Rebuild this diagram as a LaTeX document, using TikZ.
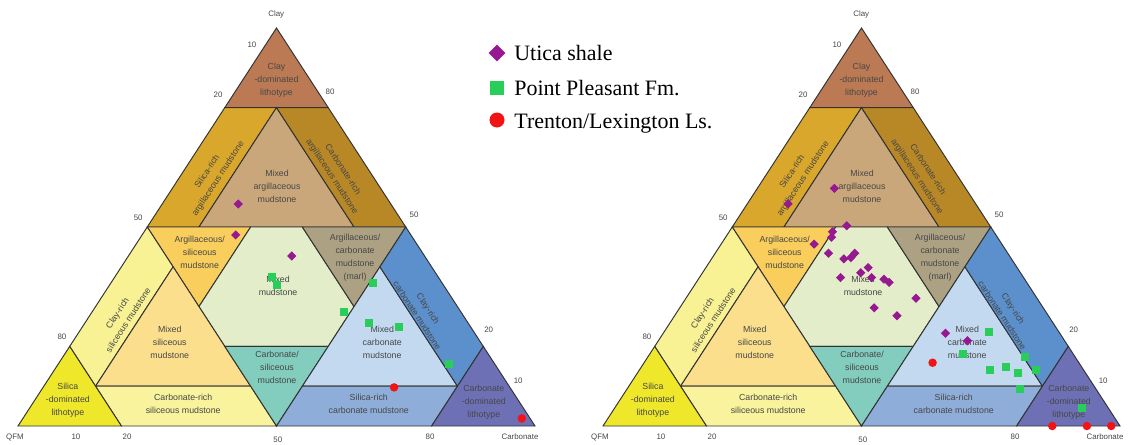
\documentclass[tikz,border=0pt]{standalone}
\usepackage{fontspec}
\setmainfont{Liberation Serif}
\setsansfont{Liberation Sans}
\usetikzlibrary{shapes.geometric}

\definecolor{claydom}{RGB}{188,122,84}
\definecolor{silargi}{RGB}{217,167,43}
\definecolor{mixargi}{RGB}{201,167,122}
\definecolor{carbargi}{RGB}{185,136,38}
\definecolor{argisil}{RGB}{249,206,92}
\definecolor{mixmud}{RGB}{227,237,201}
\definecolor{marl}{RGB}{173,161,132}
\definecolor{claysil}{RGB}{248,242,148}
\definecolor{mixsil}{RGB}{251,223,141}
\definecolor{carbsil}{RGB}{248,243,156}
\definecolor{sildom}{RGB}{239,232,42}
\definecolor{carbslash}{RGB}{130,205,189}
\definecolor{mixcarb}{RGB}{194,217,240}
\definecolor{claycarb}{RGB}{91,144,205}
\definecolor{silcarb}{RGB}{142,173,217}
\definecolor{carbdom}{RGB}{109,112,181}
\definecolor{uticac}{RGB}{150,25,145}
\definecolor{pleasantc}{RGB}{40,205,90}
\definecolor{trentonc}{RGB}{240,20,20}

% one ternary diagram, points given as (carbonate, clay)
\newcommand{\ternbase}[1]{%
  \filldraw[zone, fill=claydom] (0,1) -- (0,0.8) -- (0.2,0.8) -- cycle;
  \filldraw[zone, fill=silargi] (0,0.8) -- (0,0.5) -- (0.1,0.5) -- (0.1,0.8) -- cycle;
  \filldraw[zone, fill=mixargi] (0.1,0.8) -- (0.1,0.5) -- (0.4,0.5) -- cycle;
  \filldraw[zone, fill=carbargi] (0.2,0.8) -- (0.1,0.8) -- (0.4,0.5) -- (0.5,0.5) -- cycle;
  \filldraw[zone, fill=argisil] (0,0.5) -- (0.2,0.5) -- (0.2,0.3) -- cycle;
  \filldraw[zone, fill=mixmud] (0.2,0.5) -- (0.3,0.5) -- (0.5,0.3) -- (0.5,0.2) -- (0.3,0.2) -- (0.2,0.3) -- cycle;
  \filldraw[zone, fill=marl] (0.3,0.5) -- (0.5,0.5) -- (0.5,0.3) -- cycle;
  \filldraw[zone, fill=claysil] (0,0.5) -- (0.1,0.4) -- (0.1,0.1) -- (0,0.2) -- cycle;
  \filldraw[zone, fill=mixsil] (0.1,0.4) -- (0.1,0.1) -- (0.4,0.1) -- cycle;
  \filldraw[zone, fill=carbsil] (0.1,0.1) -- (0.2,0) -- (0.5,0) -- (0.4,0.1) -- cycle;
  \filldraw[zone, fill=sildom] (0,0) -- (0.2,0) -- (0,0.2) -- cycle;
  \filldraw[zone, fill=carbslash] (0.3,0.2) -- (0.5,0.2) -- (0.5,0) -- cycle;
  \filldraw[zone, fill=mixcarb] (0.5,0.4) -- (0.8,0.1) -- (0.5,0.1) -- cycle;
  \filldraw[zone, fill=claycarb] (0.5,0.5) -- (0.5,0.4) -- (0.8,0.1) -- (0.8,0.2) -- cycle;
  \filldraw[zone, fill=silcarb] (0.8,0.1) -- (0.8,0) -- (0.5,0) -- (0.5,0.1) -- cycle;
  \filldraw[zone, fill=carbdom] (0.8,0.2) -- (1,0) -- (0.8,0) -- cycle;

  \foreach \k/\c/\r/\t [count=\n] in {
      0.065/0.87/0/{Clay\\-dominated\\lithotype},
      0.062/0.63/57/{Silica-rich\\argillaceous mudstone},
      0.2/0.602/0/{Mixed\\argillaceous\\mudstone},
      0.3/0.635/-57/{Carbonate-rich\\argillaceous mudstone},
      0.133/0.437/0/{Argillaceous/\\siliceous\\mudstone},
      0.327/0.352/0/{Mixed\\mudstone},
      0.441/0.422/0/{Argillaceous/\\carbonate\\mudstone\\(marl)},
      0.065/0.275/57/{Clay-rich\\siliceous mudstone},
      0.188/0.211/0/{Mixed\\siliceous\\mudstone},
      0.427/0.148/0/{Carbonate/\\siliceous\\mudstone},
      0.599/0.211/0/{Mixed\\carbonate\\mudstone},
      0.64/0.286/-57/{Clay-rich\\carbonate mudstone},
      0.064/0.065/0/{Silica\\-dominated\\lithotype},
      0.292/0.055/0/{Carbonate-rich\\siliceous mudstone},
      0.651/0.055/0/{Silica-rich\\carbonate mudstone},
      0.871/0.06/0/{Carbonate\\-dominated\\lithotype}}
    \node[zonetext, rotate=\r] (#1z\n) at (\k,\c) {\t};

  \foreach \k/\c/\t [count=\n] in {
      -0.017/1.033/Clay, -0.026/0.957/10, -0.029/0.832/20, -0.029/0.523/50,
      -0.027/0.224/80, 0.184/0.839/80, 0.501/0.53/50, 0.79/0.241/20,
      0.911/0.113/10, 0.008/-0.028/QFM, 0.126/-0.028/10, 0.225/-0.028/20,
      0.52/-0.035/50, 0.811/-0.028/80, 0.985/-0.028/Carbonate}
    \node[tick] (#1t\n) at (\k,\c) {\t};
}

\begin{document}
\begin{tikzpicture}[x=2cm, y=2cm,
    zone/.style={draw=black!80, line width=0.55pt},
    zonetext/.style={font=\sffamily\fontsize{5}{7.4}\selectfont, text=black!72, align=center, inner sep=0pt},
    tick/.style={font=\sffamily\fontsize{4.5}{5}\selectfont, text=black!72, inner sep=0pt},
    tern/.style={shift={#1}, x={(10.34cm,0cm)}, y={(5.17cm,7.96cm)}},
    utica/.style={diamond, fill=uticac, inner sep=0pt, minimum size=0.19cm},
    pleasant/.style={rectangle, fill=pleasantc, inner sep=0pt, minimum size=0.16cm},
    trenton/.style={circle, fill=trentonc, inner sep=0pt, minimum size=0.17cm},
    legtext/.style={anchor=base west, font=\fontsize{12.5}{14}\selectfont, inner sep=0pt}]
  \useasboundingbox (0,0) rectangle (11.44,4.44);

  \begin{scope}[tern={(0.18,0.18)}]
    \ternbase{L}
    \foreach \k/\c [count=\n] in {0.147/0.558, 0.181/0.48, 0.316/0.427}
      \node[utica] (Lu\n) at (\k,\c) {};
    \foreach \k/\c [count=\n] in {0.303/0.375, 0.323/0.354, 0.507/0.36, 0.487/0.287,
        0.548/0.26, 0.611/0.25, 0.757/0.155}
      \node[pleasant] (Lp\n) at (\k,\c) {};
    \foreach \k/\c [count=\n] in {0.679/0.097, 0.965/0.019}
      \node[trenton] (Lt\n) at (\k,\c) {};
  \end{scope}

  \begin{scope}[tern={(6.03,0.18)}]
    \ternbase{R}
    \foreach \k/\c [count=\n] in {0.079/0.558, 0.149/0.597, 0.22/0.503, 0.2/0.488,
        0.205/0.474, 0.18/0.457, 0.219/0.434, 0.256/0.42, 0.268/0.423, 0.27/0.434,
        0.306/0.385, 0.314/0.398, 0.333/0.373, 0.273/0.373, 0.359/0.369, 0.373/0.361,
        0.445/0.321, 0.376/0.297, 0.43/0.277, 0.546/0.233, 0.598/0.214}
      \node[utica] (Ru\n) at (\k,\c) {};
    \foreach \k/\c [count=\n] in {0.63/0.235, 0.605/0.181, 0.729/0.174, 0.767/0.141,
        0.678/0.141, 0.706/0.147, 0.737/0.132, 0.76/0.093, 0.904/0.045}
      \node[pleasant] (Rp\n) at (\k,\c) {};
    \foreach \k/\c [count=\n] in {0.558/0.159, 0.869/0, 0.936/0, 0.983/0}
      \node[trenton] (Rt\n) at (\k,\c) {};
  \end{scope}

  % legend
  \node[utica, minimum size=0.34cm] (legu) at (4.97,3.91) {};
  \node[pleasant, minimum size=0.28cm] (legp) at (4.97,3.56) {};
  \node[trenton, minimum size=0.3cm] (legt) at (4.97,3.24) {};
  \node[legtext] (legutext) at (5.14,3.84) {Utica shale};
  \node[legtext] (legptext) at (5.14,3.49) {Point Pleasant Fm.};
  \node[legtext] (legttext) at (5.14,3.16) {Trenton/Lexington Ls.};
\end{tikzpicture}
\end{document}
